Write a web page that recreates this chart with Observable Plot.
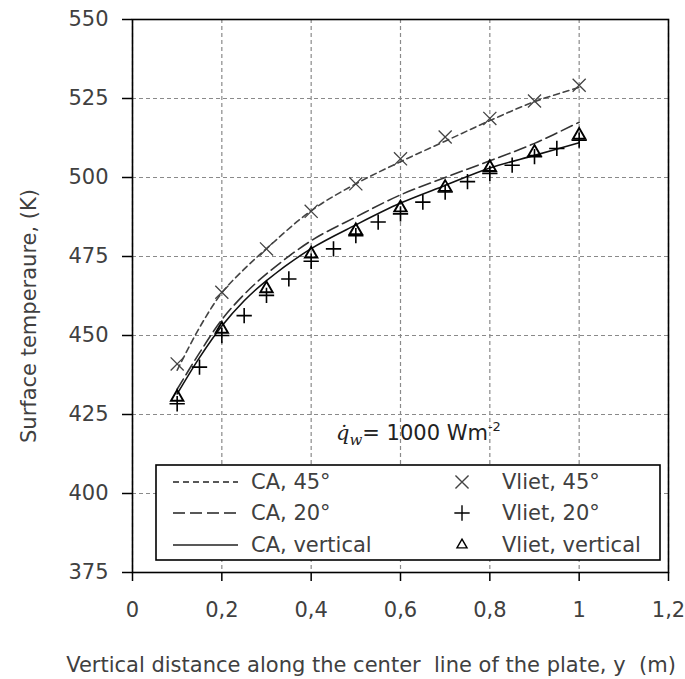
<!DOCTYPE html>
<html><head><meta charset="utf-8">
<script src="https://cdn.jsdelivr.net/npm/d3@7"></script>
<script src="https://cdn.jsdelivr.net/npm/@observablehq/plot@0.6"></script>
<style>body{margin:0;background:#fff}#chart{width:685px;height:679px}</style>
</head><body><div id="chart"></div>
<script>
// CA model curves
const caX    = [0.1, 0.15, 0.2, 0.25, 0.3, 0.4, 0.5, 0.6, 0.7, 0.8, 0.9, 1.0];
const ca45   = [439, 452.5, 463.5, 471, 477.5, 489.5, 498, 505, 511.5, 518, 524, 528.5];
const ca20   = [433, 444.5, 455, 463, 469.5, 480, 487.5, 494.5, 500, 505.3, 510.8, 517.5];
const caVert = [431.5, 443, 453, 461, 467.4, 477.5, 485, 491.9, 497.5, 503, 507, 511];
// Vliet experimental points
const vlietX    = [0.1, 0.2, 0.3, 0.4, 0.5, 0.6, 0.7, 0.8, 0.9, 1.0];
const vliet45   = [441, 463.7, 477.4, 489.3, 498, 505.9, 512.8, 518.7, 524.2, 529.2];
const vlietVert = [430.5, 452, 464.8, 475.8, 483.2, 490.4, 496.9, 503.2, 508, 513.4];
const vliet20X  = [0.1, 0.15, 0.2, 0.25, 0.3, 0.35, 0.4, 0.45, 0.5, 0.55, 0.6, 0.65, 0.7, 0.75, 0.8, 0.85, 0.9, 0.95, 1.0];
const vliet20   = [428.4, 440, 450, 456.3, 462.7, 467.9, 473.5, 477.4, 481.6, 485.9, 488.5, 492.2, 495.4, 498.7, 501.3, 503.9, 506.6, 509.2, 511.8];
// ticks and text
const xTicks = [0, 0.2, 0.4, 0.6, 0.8, 1, 1.2];
const yTicks = [375, 400, 425, 450, 475, 500, 525, 550];
const xTitle = "Vertical distance along the center  line of the plate, y  (m)";
const yTitle = "Surface temperaure, (K)";
const legendCA = ["CA, 45°", "CA, 20°", "CA, vertical"];
const legendVliet = ["Vliet, 45°", "Vliet, 20°", "Vliet, vertical"];

const rows = (xs, ys) => xs.map((x, i) => ({x, y: ys[i]}));
const FONT = "'DejaVu Sans', sans-serif";
const FS = 21;
const TXT = "#404040";

const chart = Plot.plot({
  width: 685, height: 679,
  marginLeft: 132, marginRight: 17, marginTop: 19, marginBottom: 107,
  style: {fontFamily: FONT, fontSize: FS + "px", color: TXT, background: "#fff"},
  x: {domain: [0, 1.2]},
  y: {domain: [375, 550]},
  marks: [
    Plot.gridX(xTicks, {stroke: "#8a8a8a", strokeOpacity: 1, strokeDasharray: "4,3", strokeWidth: 1.2}),
    Plot.gridY(yTicks, {stroke: "#8a8a8a", strokeOpacity: 1, strokeDasharray: "4,3", strokeWidth: 1.2}),
    Plot.line(rows(caX, ca45), {x: "x", y: "y", curve: "catmull-rom", stroke: "#444", strokeWidth: 1.6, strokeDasharray: "6,4"}),
    Plot.line(rows(caX, ca20), {x: "x", y: "y", curve: "catmull-rom", stroke: "#333", strokeWidth: 1.6, strokeDasharray: "12,5"}),
    Plot.line(rows(caX, caVert), {x: "x", y: "y", curve: "catmull-rom", stroke: "#111", strokeWidth: 1.6}),
    Plot.dot(rows(vlietX, vliet45), {x: "x", y: "y", symbol: "times", r: 6, stroke: "#444", strokeWidth: 1.3}),
    Plot.dot(rows(vliet20X, vliet20), {x: "x", y: "y", symbol: "plus", r: 5, stroke: "#000", strokeWidth: 1.6}),
    Plot.dot(rows(vlietX, vlietVert), {x: "x", y: "y", symbol: "triangle", r: 4.6, stroke: "#000", strokeWidth: 1.9, fill: "none"}),
    Plot.frame({stroke: "#000", strokeWidth: 1.6}),
    Plot.axisX({ticks: xTicks, tickFormat: d => String(d).replace(".", ","), tickSize: 9, tickPadding: 21, stroke: "#000", strokeWidth: 1.5, fill: TXT, label: null}),
    Plot.axisY({ticks: yTicks, tickSize: 10, tickPadding: 14, stroke: "#000", strokeWidth: 1.5, fill: TXT, label: null})
  ]
});
document.getElementById("chart").appendChild(chart);

const svg = d3.select(chart);
// axis titles
svg.append("text").attr("x", 371).attr("y", 672).attr("text-anchor", "middle")
  .attr("font-family", FONT).attr("font-size", FS).attr("fill", TXT).text(xTitle);
svg.append("text").attr("transform", "translate(36,316) rotate(-90)").attr("text-anchor", "middle")
  .attr("font-family", FONT).attr("font-size", FS).attr("fill", TXT).text(yTitle);

// annotation q̇_w = 1000 W m^-2
const ann = svg.append("text").attr("x", 336).attr("y", 440).attr("text-anchor", "start")
  .attr("font-size", 21).attr("fill", "#222");
ann.append("tspan").attr("font-family", "'DejaVu Serif', serif").attr("font-style", "italic").text("q\u0307");
ann.append("tspan").attr("font-family", "'DejaVu Serif', serif").attr("font-style", "italic").attr("font-size", 15).attr("dy", 5).text("w");
ann.append("tspan").attr("font-family", FONT).attr("font-size", FS).attr("dy", -5).text("= 1000 Wm");
ann.append("tspan").attr("font-family", FONT).attr("font-size", 13).attr("dy", -9).text("-2");

// legend
const lg = svg.append("g").attr("text-anchor", "start");
lg.append("rect").attr("x", 156).attr("y", 465).attr("width", 504).attr("height", 95)
  .attr("fill", "#fff").attr("stroke", "#000").attr("stroke-width", 1.6);
const rowY = [482, 513, 545];
const dashes = ["6,4", "12,5", null];
const symbols = [d3.symbolTimes, d3.symbolPlus, d3.symbolTriangle];
const symSizes = [Math.PI * 36, Math.PI * 25, Math.PI * 14];
legendCA.forEach((t, i) => {
  const l = lg.append("line").attr("x1", 173).attr("x2", 238).attr("y1", rowY[i]).attr("y2", rowY[i])
    .attr("stroke", "#222").attr("stroke-width", 1.6);
  if (dashes[i]) l.attr("stroke-dasharray", dashes[i]);
  lg.append("text").attr("x", 251).attr("y", rowY[i]).attr("dy", "0.35em")
    .attr("font-family", FONT).attr("font-size", FS).attr("fill", TXT).text(t);
});
legendVliet.forEach((t, i) => {
  lg.append("path").attr("transform", `translate(462,${rowY[i]})`)
    .attr("d", d3.symbol(symbols[i], symSizes[i])())
    .attr("fill", "none").attr("stroke", i === 0 ? "#444" : "#000").attr("stroke-width", 1.4);
  lg.append("text").attr("x", 502).attr("y", rowY[i]).attr("dy", "0.35em")
    .attr("font-family", FONT).attr("font-size", FS).attr("fill", TXT).text(t);
});
</script>
</body></html>
